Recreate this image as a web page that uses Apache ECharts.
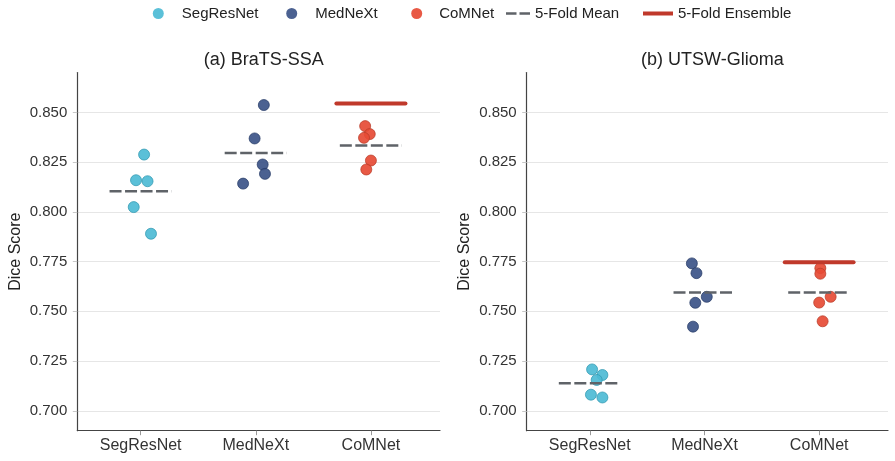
<!DOCTYPE html>
<html>
<head>
<meta charset="utf-8">
<script src="https://cdn.jsdelivr.net/npm/echarts@6/dist/echarts.min.js"></script>
<style>html,body{margin:0;padding:0;background:#fff}#c{width:895px;height:461px}</style>
</head>
<body>
<div id="c"></div>
<script>
// ---- data ----
const categories = ['SegResNet', 'MedNeXt', 'CoMNet'];
const panelTitles = ['(a) BraTS-SSA', '(b) UTSW-Glioma'];
const yTicks = [0.700, 0.725, 0.750, 0.775, 0.800, 0.825, 0.850];

const bratsSegResNet = [0.8288, 0.8159, 0.8154, 0.8024, 0.7890];
const bratsMedNeXt   = [0.8537, 0.8369, 0.8238, 0.8191, 0.8142];
const bratsCoMNet    = [0.8431, 0.8391, 0.8372, 0.8258, 0.8213];
const utswSegResNet  = [0.7208, 0.7180, 0.7155, 0.7081, 0.7067];
const utswMedNeXt    = [0.7741, 0.7692, 0.7573, 0.7543, 0.7423];
const utswCoMNet     = [0.7717, 0.7689, 0.7573, 0.7544, 0.7450];

// horizontal jitter (in category units)
const bratsSegJitter = [0.03, -0.04, 0.06, -0.06, 0.09];
const bratsMedJitter = [0.07, -0.01, 0.06, 0.08, -0.11];
const bratsComJitter = [-0.05, -0.01, -0.06, 0.00, -0.04];
const utswSegJitter  = [0.02, 0.11, 0.06, 0.01, 0.11];
const utswMedJitter  = [-0.11, -0.07, 0.02, -0.08, -0.10];
const utswComJitter  = [0.01, 0.01, 0.10, 0.00, 0.03];

const bratsEnsembleCoMNet = 0.8545;
const utswEnsembleCoMNet  = 0.7747;

// ---- styling ----
const colors = { SegResNet: '#4DBBD5', MedNeXt: '#3C5488', CoMNet: '#E64B35' };
const borders = { SegResNet: '#2f97b0', MedNeXt: '#263a66', CoMNet: '#b83a28' };
const meanColor = '#5f6368';
const ensColor = '#C0392B';
const FONT = '"Liberation Sans", Arial, sans-serif';

const panels = [
  { vals: [bratsSegResNet, bratsMedNeXt, bratsCoMNet], jit: [bratsSegJitter, bratsMedJitter, bratsComJitter], ens: bratsEnsembleCoMNet },
  { vals: [utswSegResNet, utswMedNeXt, utswCoMNet], jit: [utswSegJitter, utswMedJitter, utswComJitter], ens: utswEnsembleCoMNet }
];

const grids = [
  { left: 77.3, top: 72.6, width: 362.7, height: 358.1 },
  { left: 526.7, top: 72.6, width: 361.3, height: 358.1 }
];

const xAxes = [], yAxes = [], series = [], titles = [];
panels.forEach((p, pi) => {
  titles.push({
    text: panelTitles[pi],
    left: grids[pi].left + grids[pi].width / 2,
    top: 46,
    textAlign: 'center',
    textStyle: { fontFamily: FONT, fontSize: 18, fontWeight: 'normal', color: '#222' }
  });
  xAxes.push({
    type: 'value', gridIndex: pi, min: -0.55, max: 2.6,
    axisLine: { show: true, onZero: false, lineStyle: { color: '#444', width: 1.2 } },
    axisTick: { show: true, length: 4.5, lineStyle: { color: '#999' }, customValues: [0, 1, 2] },
    axisLabel: {
      customValues: [0, 1, 2], margin: 7,
      fontFamily: FONT, fontSize: 16, color: '#333',
      formatter: v => categories[Math.round(v)]
    },
    splitLine: { show: false }
  });
  yAxes.push({
    type: 'value', gridIndex: pi, min: 0.69, max: 0.87,
    name: 'Dice Score', nameLocation: 'middle', nameGap: 54,
    nameTextStyle: { fontFamily: FONT, fontSize: 16, color: '#222' },
    axisLine: { show: true, onZero: false, lineStyle: { color: '#444', width: 1.2 } },
    axisTick: { show: true, length: 4.5, lineStyle: { color: '#c8c8c8' }, customValues: yTicks },
    axisLabel: {
      customValues: yTicks, margin: 10,
      fontFamily: FONT, fontSize: 15, color: '#333',
      formatter: v => v.toFixed(3)
    },
    splitLine: { show: true, lineStyle: { color: '#e6e6e6', width: 1 } }
  });
  categories.forEach((cat, ci) => {
    const vals = p.vals[ci];
    series.push({
      name: cat, type: 'scatter', xAxisIndex: pi, yAxisIndex: pi,
      symbolSize: 11, z: 2,
      itemStyle: { color: colors[cat], borderColor: borders[cat], borderWidth: 0.8, opacity: 0.92 },
      data: vals.map((v, k) => [ci + p.jit[ci][k], v])
    });
    const mean = vals.reduce((a, b) => a + b, 0) / vals.length;
    series.push({
      name: '5-Fold Mean', type: 'line', xAxisIndex: pi, yAxisIndex: pi,
      symbol: 'none', z: 4, silent: true,
      itemStyle: { color: meanColor },
      lineStyle: { color: meanColor, width: 2.5, type: [12, 3.5] },
      data: [[ci - 0.27, mean], [ci + 0.27, mean]]
    });
  });
  series.push({
    name: '5-Fold Ensemble', type: 'line', xAxisIndex: pi, yAxisIndex: pi,
    symbol: 'none', z: 5, silent: true,
    itemStyle: { color: ensColor },
    lineStyle: { color: ensColor, width: 4, cap: 'round' },
    data: [[2 - 0.3, p.ens], [2 + 0.3, p.ens]]
  });
});

function leg(name, left, icon, w, h, pad, color) {
  return {
    left: left, top: 6, padding: 0, itemWidth: w, itemHeight: h, itemGap: 0,
    selectedMode: false,
    textStyle: { fontFamily: FONT, fontSize: 15, color: '#222', padding: [0, 0, 0, pad] },
    data: [{ name: name, icon: icon, itemStyle: { color: color, borderWidth: 0 } }]
  };
}
const legends = [
  leg('SegResNet', 152.8, 'circle', 11, 11, 13, colors.SegResNet),
  leg('MedNeXt', 286.2, 'circle', 11, 11, 13, colors.MedNeXt),
  leg('CoMNet', 411.2, 'circle', 11, 11, 12, colors.CoMNet),
  leg('5-Fold Mean', 506, 'path://M0,0H10.5V2.5H0Z M13.5,0H24V2.5H13.5Z', 24, 2.5, 0, meanColor),
  leg('5-Fold Ensemble', 643, 'rect', 30, 4, 0, ensColor)
];

const chart = echarts.init(document.getElementById('c'), null, { renderer: 'canvas' });
chart.setOption({
  animation: false,
  backgroundColor: '#fff',
  title: titles,
  legend: legends,
  grid: grids,
  xAxis: xAxes,
  yAxis: yAxes,
  series: series
});
</script>
</body>
</html>
